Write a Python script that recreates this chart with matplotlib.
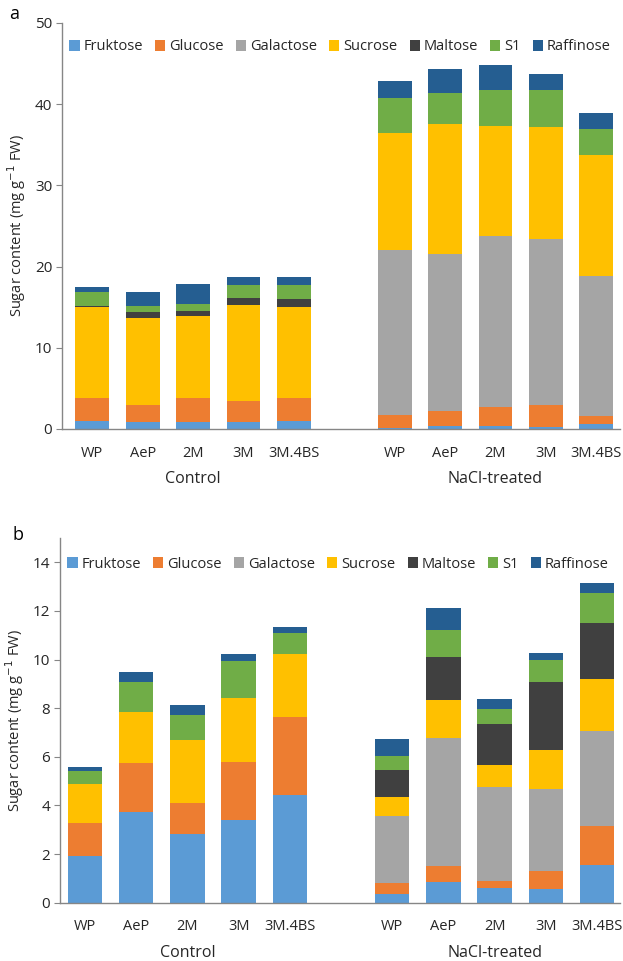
import matplotlib
matplotlib.use("Agg")
import matplotlib.pyplot as plt
import matplotlib.transforms as mtransforms
import numpy as np

plt.rcParams['font.family'] = ['Open Sans', 'DejaVu Sans']

genotypes = ["WP", "AeP", "2M", "3M", "3M.4BS"]
groups = ["Control", "NaCl-treated"]
sugars = ["Fruktose", "Glucose", "Galactose", "Sucrose", "Maltose", "S1", "Raffinose"]
colors = ["#5B9BD5", "#ED7D31", "#A5A5A5", "#FFC000", "#404040", "#70AD47", "#255E91"]

# Panel a: segment heights, control (5 genotypes) then NaCl (5 genotypes)
a_fruktose  = [1.03, 0.82, 0.82, 0.82, 0.99,   0.16, 0.41, 0.41, 0.29, 0.57]
a_glucose   = [2.79, 2.18, 3.00, 2.59, 2.83,   1.61, 1.85, 2.30, 2.62, 1.03]
a_galactose = [0.00, 0.00, 0.00, 0.00, 0.00,   20.27, 19.29, 21.06, 20.45, 17.24]
a_sucrose   = [11.16, 10.63, 10.14, 11.86, 11.25,   14.36, 16.01, 13.59, 13.79, 14.90]
a_maltose   = [0.21, 0.82, 0.57, 0.82, 0.90,   0.00, 0.00, 0.00, 0.00, 0.00]
a_s1        = [1.71, 0.74, 0.86, 1.64, 1.76,   4.32, 3.78, 4.39, 4.60, 3.21]
a_raffinose = [0.63, 1.71, 2.43, 0.95, 0.95,   2.18, 2.95, 3.08, 1.97, 1.93]

# Panel b
b_fruktose  = [1.92, 3.74, 2.82, 3.40, 4.43,   0.36, 0.86, 0.59, 0.56, 1.55]
b_glucose   = [1.37, 2.02, 1.27, 2.39, 3.21,   0.44, 0.66, 0.31, 0.74, 1.62]
b_galactose = [0.00, 0.00, 0.00, 0.00, 0.00,   2.77, 5.27, 3.87, 3.39, 3.89]
b_sucrose   = [1.58, 2.10, 2.62, 2.63, 2.59,   0.79, 1.55, 0.89, 1.59, 2.14]
b_maltose   = [0.00, 0.00, 0.00, 0.00, 0.00,   1.10, 1.75, 1.68, 2.78, 2.29]
b_s1        = [0.56, 1.20, 1.01, 1.53, 0.85,   0.57, 1.13, 0.64, 0.92, 1.26]
b_raffinose = [0.14, 0.41, 0.41, 0.28, 0.27,   0.69, 0.89, 0.40, 0.30, 0.41]

panel_a = [a_fruktose, a_glucose, a_galactose, a_sucrose, a_maltose, a_s1, a_raffinose]
panel_b = [b_fruktose, b_glucose, b_galactose, b_sucrose, b_maltose, b_s1, b_raffinose]

W, H = 623, 961
fig = plt.figure(figsize=(W/100, H/100), dpi=100)
ax_a = fig.add_axes([62/W, 1-429/H, 558/W, 406/H])
ax_b = fig.add_axes([60/W, 1-902.7/H, 560/W, 364.7/H])

positions = np.array([0, 1, 2, 3, 4, 6, 7, 8, 9, 10])
axis_col = "#868686"
text_col = "#262626"

def draw(ax, data, ylim, yticks, xlim, legend_y, group_y):
    bottom = np.zeros(len(positions))
    for name, vals, col in zip(sugars, data, colors):
        v = np.array(vals)
        ax.bar(positions, v, bottom=bottom, width=0.67, color=col, label=name,
               edgecolor="none")
        bottom += v
    ax.set_ylim(*ylim)
    ax.set_xlim(*xlim)
    ax.set_yticks(yticks)
    ax.set_xticks(positions)
    ax.set_xticklabels(genotypes * 2, fontsize=10.5, color=text_col)
    ax.tick_params(axis='x', length=0, pad=12)
    ax.tick_params(axis='y', direction='out', length=4, color=axis_col,
                   labelsize=11, labelcolor=text_col, pad=3)
    for s in ["top", "right"]:
        ax.spines[s].set_visible(False)
    for s in ["left", "bottom"]:
        ax.spines[s].set_color(axis_col)
        ax.spines[s].set_linewidth(1.0)
    ax.set_ylabel("Sugar content (mg g$^{-1}$ FW)", fontsize=10.5, color=text_col, labelpad=5)
    trans = mtransforms.blended_transform_factory(ax.transData, fig.transFigure)
    for gi, g in enumerate(groups):
        ax.text(np.mean(positions[gi*5:(gi+1)*5]), 1 - group_y/H, g,
                transform=trans, ha='center', va='center', fontsize=11.5, color=text_col)
    x0 = ax.get_position().x0 + 0.012
    ax.legend(ncol=7, loc='center left', bbox_to_anchor=(x0, 1 - legend_y/H),
              bbox_transform=fig.transFigure,
              frameon=False, fontsize=10.5, handlelength=0.7, handleheight=0.7,
              handletextpad=0.25, columnspacing=0.85, borderaxespad=0.0,
              borderpad=0.0, labelcolor=text_col)

draw(ax_a, panel_a, (0, 50), range(0, 51, 10), (-0.6, 10.47), 47, 479)
draw(ax_b, panel_b, (0, 15), range(0, 15, 2), (-0.49, 10.45), 564, 953)

fig.text(14/W, 1 - 14/H, "a", fontsize=13, color="black", ha='center', va='center')
fig.text(18/W, 1 - 535/H, "b", fontsize=13, color="black", ha='center', va='center')

fig.savefig("out.png", dpi=100)
